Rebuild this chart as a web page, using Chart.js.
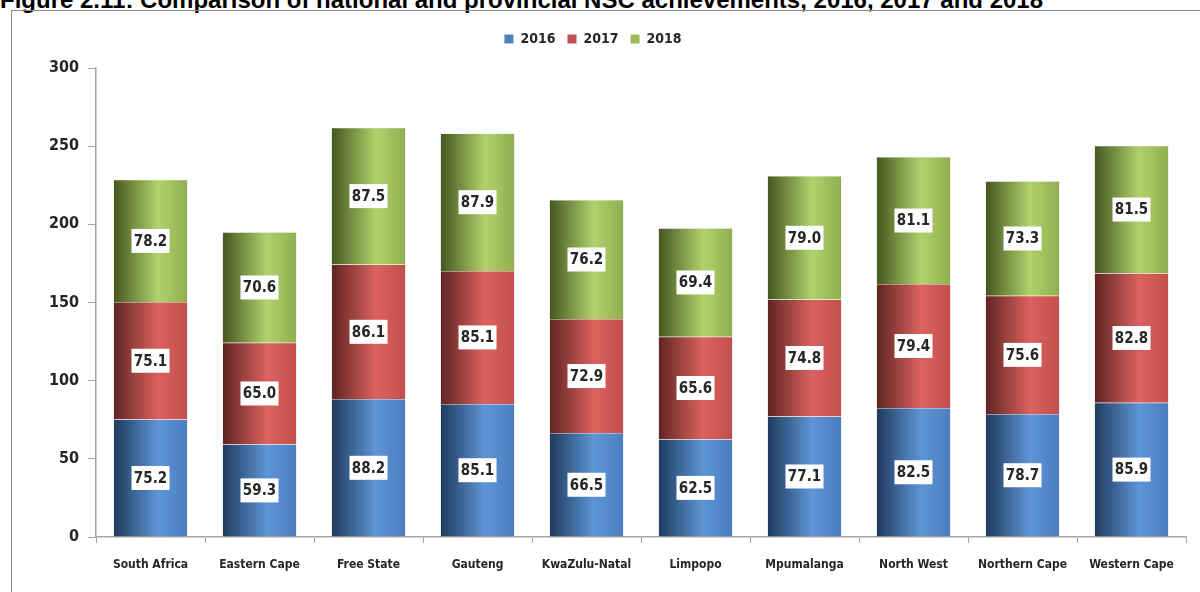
<!DOCTYPE html>
<html>
<head>
<meta charset="utf-8">
<script src="https://cdn.jsdelivr.net/npm/chart.js@4/dist/chart.umd.min.js"></script>
<style>
    html, body { margin: 0; padding: 0; background: #fff; overflow: hidden; }
    #wrap { position: relative; width: 1200px; height: 592px; }
    #title {
        position: absolute; left: 0; top: -14px; white-space: nowrap; line-height: 24px;
        font: bold 24px 'Liberation Sans', Arial, sans-serif; color: #000;
    }
    #frame {
        position: absolute; left: 11px; top: 10px; width: 1200px; height: 600px;
        border-left: 1.5px solid #8c8c8c; border-top: 1.5px solid #8c8c8c;
    }
    #chart { position: absolute; left: 0; top: 0; }
</style>
</head>
<body>
<div id="wrap">
    <div id="title">Figure 2.11: Comparison of national and provincial NSC achievements, 2016, 2017 and 2018</div>
    <div id="frame"></div>
    <canvas id="chart" width="1200" height="592"></canvas>
</div>
<script>
const provinces = ['South Africa', 'Eastern Cape', 'Free State', 'Gauteng', 'KwaZulu-Natal',
    'Limpopo', 'Mpumalanga', 'North West', 'Northern Cape', 'Western Cape'];
const years = ['2016', '2017', '2018'];
const values2016 = [75.2, 59.3, 88.2, 85.1, 66.5, 62.5, 77.1, 82.5, 78.7, 85.9];
const values2017 = [75.1, 65.0, 86.1, 85.1, 72.9, 65.6, 74.8, 79.4, 75.6, 82.8];
const values2018 = [78.2, 70.6, 87.5, 87.9, 76.2, 69.4, 79.0, 81.1, 73.3, 81.5];
const yTicks = [0, 50, 100, 150, 200, 250, 300];

const FONT = "'Liberation Sans Narrow', 'Arial Narrow', 'DejaVu Sans Condensed', sans-serif";
const BAR_PCT = 0.68;

// dark edge -> highlight -> base colour, to give each column a rounded look
const shades = [
    { solid: '#4f81bd', stops: ['#1f3a5c', '#5d95d6', '#4a7dc0'] },
    { solid: '#c0504d', stops: ['#5e2422', '#dc625e', '#c24f4b'] },
    { solid: '#9bbb59', stops: ['#44561f', '#b0d26c', '#8fae4f'] }
];

function columnFill(ctx, shade) {
    const chart = ctx.chart;
    const xScale = chart.scales.x;
    if (!xScale || !chart.chartArea || ctx.type !== 'data') return shade.solid;
    const cx = xScale.getPixelForValue(ctx.dataIndex);
    const w = (xScale.width / provinces.length) * BAR_PCT;
    const g = chart.ctx.createLinearGradient(cx - w / 2, 0, cx + w / 2, 0);
    g.addColorStop(0, shade.stops[0]);
    g.addColorStop(0.6, shade.stops[1]);
    g.addColorStop(1, shade.stops[2]);
    return g;
}

const seriesValues = [values2016, values2017, values2018];
const datasets = years.map((y, i) => ({
    label: y,
    data: seriesValues[i],
    backgroundColor: ctx => columnFill(ctx, shades[i]),
    borderColor: 'rgba(200,200,200,0.8)',
    borderWidth: 0.5,
    categoryPercentage: 1,
    barPercentage: BAR_PCT
}));

// value boxes in the middle of every segment
const valueBoxes = {
    id: 'valueBoxes',
    afterDatasetsDraw(chart) {
        const c = chart.ctx;
        c.save();
        c.font = 'bold 15px ' + FONT;
        c.textAlign = 'center';
        c.textBaseline = 'middle';
        chart.data.datasets.forEach((ds, di) => {
            chart.getDatasetMeta(di).data.forEach((bar, i) => {
                const cy = (bar.y + bar.base) / 2;
                const bw = 38, bh = 24;
                c.fillStyle = '#fff';
                c.fillRect(bar.x - bw / 2, cy - bh / 2, bw, bh);
                c.fillStyle = '#262626';
                c.fillText(ds.data[i].toFixed(1), bar.x, cy + 1);
            });
        });
        c.restore();
    }
};

// flat legend swatches, plus extra room below the legend
const legendFlat = {
    id: 'legendFlat',
    beforeInit(chart) {
        chart.options.plugins.legend.labels.generateLabels = function (ch) {
            return ch.data.datasets.map((ds, i) => ({
                text: ds.label,
                fillStyle: shades[i].solid,
                strokeStyle: shades[i].solid,
                lineWidth: 0,
                fontColor: '#262626',
                datasetIndex: i
            }));
        };
    },
    afterInit(chart) {
        const legend = chart.legend;
        if (!legend) return;
        const fit = legend.fit;
        legend.fit = function () {
            fit.call(this);
            this.height += 12;
        };
    }
};

new Chart(document.getElementById('chart'), {
    type: 'bar',
    data: { labels: provinces, datasets: datasets },
    plugins: [valueBoxes, legendFlat],
    options: {
        responsive: false,
        animation: false,
        layout: { padding: { left: 0, right: 14, top: 20, bottom: 10 } },
        plugins: {
            tooltip: { enabled: false },
            legend: {
                position: 'top',
                labels: {
                    boxWidth: 9,
                    boxHeight: 9,
                    padding: 12,
                    color: '#262626',
                    font: { family: FONT, size: 14, weight: 'bold' }
                }
            }
        },
        scales: {
            x: {
                stacked: true,
                offset: true,
                grid: {
                    display: true,
                    offset: true,
                    drawOnChartArea: false,
                    tickLength: 6,
                    color: '#a6a6a6'
                },
                border: { color: '#a6a6a6', width: 1.5 },
                ticks: {
                    color: '#262626',
                    padding: 15,
                    maxRotation: 0,
                    autoSkip: false,
                    font: { family: FONT, size: 12, weight: 'bold' }
                },
                afterFit(scale) { scale.height = 45; }
            },
            y: {
                stacked: true,
                min: 0,
                max: 300,
                afterBuildTicks(scale) { scale.ticks = yTicks.map(v => ({ value: v })); },
                grid: {
                    drawOnChartArea: false,
                    tickLength: 8,
                    color: '#a6a6a6'
                },
                border: { color: '#a6a6a6', width: 1.5 },
                ticks: {
                    color: '#262626',
                    padding: 9,
                    font: { family: FONT, size: 16, weight: 'bold' }
                },
                afterFit(scale) { scale.width = 96; }
            }
        }
    }
});
</script>
</body>
</html>
